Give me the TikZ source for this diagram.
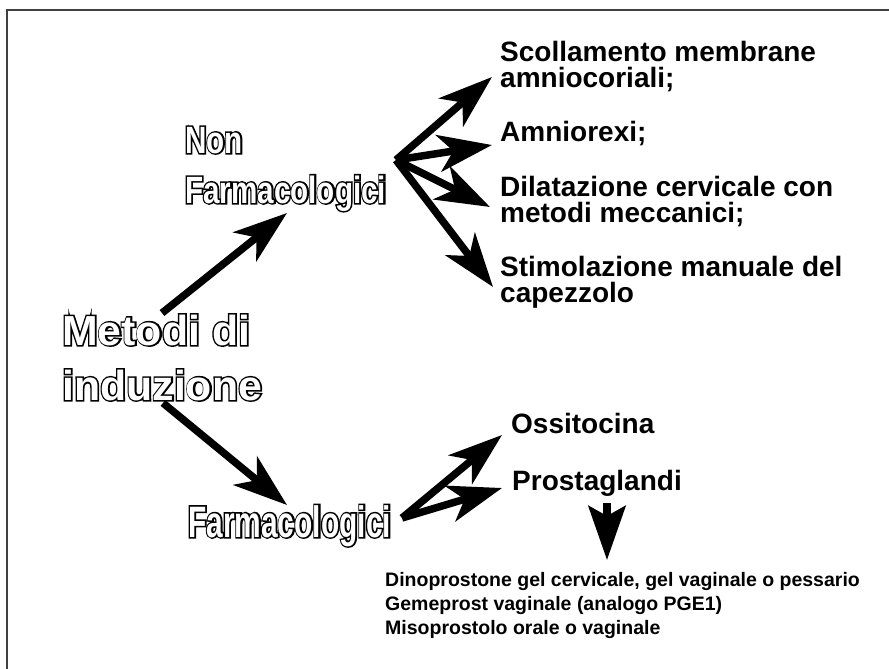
\documentclass[tikz,border=0pt]{standalone}
\usepackage{fontspec}
\setmainfont{Liberation Sans}
\newfontfamily\hollowwide{Liberation Sans}[FakeStretch=1.02]
\newfontfamily\hollowmid{Liberation Sans}[FakeStretch=0.78]
\newfontfamily\hollownarrow{Liberation Sans}[FakeStretch=0.68]
\usepackage{xcolor}
\usetikzlibrary{arrows.meta}

% outlined text: black stroked copy below, white copy on top
\newcommand{\hollow}[1]{\rlap{\special{pdf:literal direct 2 Tr 3 w 0 0 0 rg 0 0 0 RG}#1\special{pdf:literal direct 0 Tr}}\textcolor{white}{#1}}

\tikzset{
    bigarrow/.style={line width=7.5pt, -{Stealth[length=54pt, width=37pt, inset=15pt]}},
    item/.style={anchor=base west, inner sep=0pt, align=left, font=\bfseries\fontsize{28}{26}\selectfont},
    subitem/.style={anchor=base west, inner sep=0pt, align=left, font=\bfseries\fontsize{19.5}{24}\selectfont},
    hollowtext/.style={anchor=base west, inner sep=0pt, align=left}
}

\begin{document}
\begin{tikzpicture}[x=1pt, y=-1pt]

    \useasboundingbox (0,0) rectangle (889,669);

    % Frame
    \draw[line width=1.5pt, black!75] (7,669) -- (7,10) -- (889,10);

    % Hollow labels (base = last line)
    \node[hollowtext, font=\hollowwide\bfseries\fontsize{42}{55}\selectfont] (metodi) at (62,400) {\hollow{Metodi di}\\\hollow{induzione}};
    \node[hollowtext, font=\hollowmid\bfseries\fontsize{38}{50}\selectfont] (nonfarm) at (185,203) {\hollow{Non}\\\hollow{Farmacologici}};
    \node[hollowtext, font=\hollownarrow\bfseries\fontsize{44}{50}\selectfont] (farm) at (188,537) {\hollow{Farmacologici}};

    % Non farmacologici items
    \node[item] (scoll) at (500,88) {Scollamento membrane\\amniocoriali;};
    \node[item] (amnio) at (500,141) {Amniorexi;};
    \node[item] (dilat) at (500,222) {Dilatazione cervicale con\\metodi meccanici;};
    \node[item] (stimol) at (500,302) {Stimolazione manuale del\\capezzolo};

    % Farmacologici items
    \node[item] (ossi) at (511,433) {Ossitocina};
    \node[item] (prost) at (512,490) {Prostaglandi};
    \node[subitem] (dino) at (385,634) {Dinoprostone gel cervicale, gel vaginale o pessario\\Gemeprost vaginale (analogo PGE1)\\Misoprostolo orale o vaginale};

    % Arrow ends
    \coordinate (mtop) at (162,313);
    \coordinate (mbot) at (163,403);
    \coordinate (nfork) at (396,160);
    \coordinate (ffork) at (402,518);

    % Arrows
    \draw[bigarrow] (mtop) -- (287,213);
    \draw[bigarrow] (mbot) -- (287,505);
    \draw[bigarrow] (nfork) -- (492,77);
    \draw[bigarrow] (nfork) -- (492,145);
    \draw[bigarrow] (nfork) -- (490,207);
    \draw[bigarrow] (nfork) -- (493,287);
    \draw[bigarrow] (ffork) -- (502,435);
    \draw[bigarrow] (ffork) -- (502,488);
    \draw[line width=7.5pt, -{Stealth[length=54pt, width=37pt, inset=10pt]}] (607,503) -- (607,560);

\end{tikzpicture}
\end{document}
